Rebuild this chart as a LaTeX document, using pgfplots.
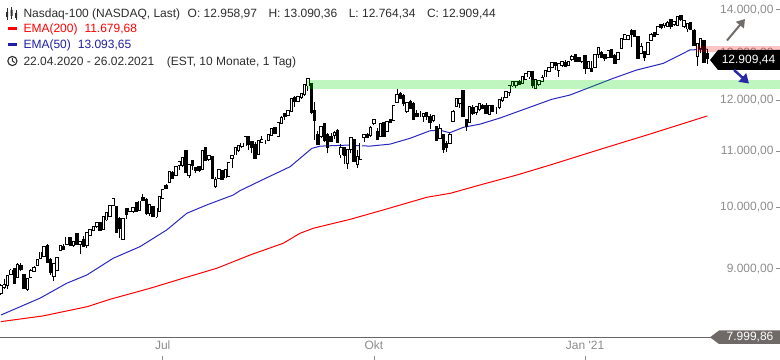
\documentclass[border=0pt]{standalone}
\usepackage{pgfplots}
\pgfplotsset{compat=1.18}
\usepackage{pgfplotstable}
\usepackage{fontspec}
\setmainfont{Liberation Sans}
\usetikzlibrary{arrows.meta}
\definecolor{txt}{RGB}{45,45,45}
\definecolor{ticklab}{RGB}{140,140,140}
\definecolor{emared}{RGB}{255,0,0}
\definecolor{emablue}{RGB}{40,40,190}
\definecolor{emabluetxt}{RGB}{30,30,165}
\definecolor{labgray}{RGB}{111,106,103}
\definecolor{arrgray}{RGB}{112,108,105}
\definecolor{arrblue}{RGB}{40,40,170}
\definecolor{bandgreen}{RGB}{0,220,0}

\pgfplotstableread{
x o h l c
0 8650 8760 8600 8720
1 8730 8850 8700 8740
2 8760 8890 8700 8880
3 8930 8990 8900 8960
4 8990 9010 8770 8790
5 8890 9080 8860 9050
6 9030 9080 8960 9000
7 8890 8910 8690 8720
8 8700 8840 8670 8830
9 8880 8990 8860 8950
10 8970 9040 8950 9000
11 9070 9140 9050 9120
12 9170 9250 9150 9240
13 9210 9340 9190 9330
14 9350 9380 9110 9120
15 9130 9170 8900 8960
16 8900 9070 8810 9060
17 8990 9160 8970 9150
18 9300 9360 9270 9340
19 9330 9390 9300 9320
20 9400 9490 9390 9480
21 9480 9500 9360 9380
22 9390 9420 9340 9410
23 9530 9540 9390 9400
24 9400 9420 9230 9410
25 9440 9510 9360 9370
26 9380 9570 9330 9560
27 9550 9620 9530 9600
28 9620 9660 9590 9650
29 9690 9730 9650 9720
30 9710 9740 9600 9620
31 9640 9830 9620 9810
32 9800 9890 9770 9880
33 9860 10020 9850 10010
34 10050 10160 10030 10120
35 9980 10000 9570 9590
36 9780 9830 9490 9660
37 9480 9800 9460 9780
38 9950 9990 9800 9900
39 9940 9990 9910 9960
40 9940 9980 9900 9970
41 10060 10090 9930 9950
42 9960 10090 9950 10080
43 10150 10220 10100 10130
44 10110 10150 9860 9910
45 9910 10030 9850 10020
46 9990 10000 9840 9850
47 9850 9970 9810 9960
48 9950 10170 9940 10160
49 10170 10300 10160 10280
50 10350 10400 10320 10340
51 10450 10610 10430 10600
52 10580 10640 10510 10520
53 10570 10710 10560 10700
54 10750 10820 10660 10780
55 10760 10870 10710 10860
56 10980 11030 10600 10620
57 10570 10740 10510 10730
58 10800 10830 10660 10760
59 10680 10700 10590 10660
60 10700 10730 10620 10660
61 10680 10990 10660 10980
62 11040 11050 10840 10850
63 10860 10920 10820 10900
64 10880 10910 10480 10520
65 10380 10520 10330 10460
66 10520 10650 10510 10640
67 10620 10640 10490 10500
68 10530 10660 10520 10640
69 10560 10780 10530 10760
70 10890 10910 10680 10900
71 10950 11080 10940 11050
72 11040 11090 10980 11080
73 11110 11150 11060 11130
74 11120 11270 11100 11250
75 11250 11270 11020 11140
76 11150 11170 10960 11090
77 11110 11170 10860 10880
78 10960 11190 10950 11170
79 11180 11280 11160 11190
80 11180 11220 11130 11180
81 11230 11310 11210 11300
82 11320 11420 11290 11410
83 11420 11460 11340 11360
84 11310 11560 11300 11530
85 11560 11680 11550 11620
86 11700 11720 11610 11690
87 11710 11780 11670 11770
88 11800 12010 11790 12000
89 12030 12080 11870 11990
90 12000 12060 11960 12050
91 12080 12140 12030 12110
92 12140 12300 12090 12290
93 12320 12440 12190 12420
94 12320 12330 11710 11770
95 11760 11960 11210 11620
96 11290 11380 11120 11140
97 11300 11490 11240 11440
98 11510 11550 11170 11220
99 11290 11340 10960 11090
100 11250 11350 11180 11210
101 11320 11390 11230 11330
102 11380 11420 11180 11190
103 10950 11140 10880 11050
104 11040 11050 10770 10940
105 10790 11010 10670 11000
106 11060 11250 10960 11240
107 11190 11200 10820 10830
108 10780 11020 10680 10880
109 10870 11150 10830 11130
110 11280 11310 11170 11300
111 11300 11340 11240 11290
112 11320 11490 11270 11420
113 11550 11620 11500 11580
114 11360 11450 11230 11240
115 11310 11510 11300 11500
116 11520 11560 11270 11300
117 11400 11550 11390 11540
118 11590 11610 11540 11570
119 11620 11870 11610 11860
120 11980 12230 11950 12090
121 12110 12170 12020 12060
122 12080 12130 11890 11950
123 11800 11960 11740 11920
124 11950 12010 11840 11850
125 11900 11960 11610 11640
126 11700 11800 11650 11690
127 11680 11770 11650 11680
128 11690 11740 11560 11710
129 11720 11730 11610 11700
130 11640 11720 11420 11580
131 11610 11690 11570 11660
132 11450 11490 11210 11220
133 11270 11520 11230 11400
134 11300 11310 10970 11050
135 11120 11200 10990 11100
136 11170 11340 11140 11300
137 11590 11800 11560 11740
138 11900 12020 11880 12000
139 11960 12020 11840 12000
140 12180 12210 11670 11700
141 11590 11600 11390 11500
142 11580 11850 11570 11840
143 11830 11900 11700 11750
144 11780 11850 11700 11840
145 11830 11900 11780 11900
146 11870 11930 11820 11860
147 11870 11940 11760 11760
148 11730 11880 11700 11860
149 11860 11880 11790 11800
150 11830 11870 11720 11830
151 11870 12020 11820 11990
152 12010 12060 11970 12040
153 12080 12170 12070 12150
154 12190 12270 12090 12270
155 12320 12400 12270 12360
156 12330 12390 12250 12370
157 12370 12430 12330 12360
158 12370 12460 12350 12460
159 12450 12550 12440 12530
160 12510 12590 12450 12570
161 12580 12610 12250 12320
162 12270 12420 12250 12400
163 12350 12390 12290 12380
164 12420 12530 12410 12440
165 12510 12600 12480 12590
166 12620 12680 12590 12660
167 12710 12770 12690 12760
168 12780 12800 12640 12760
169 12650 12760 12490 12740
170 12750 12820 12700 12800
171 12780 12850 12730 12740
172 12760 12810 12740 12800
173 12880 12960 12840 12900
174 12940 12960 12810 12850
175 12890 12900 12820 12850
176 12850 12900 12780 12890
177 12920 12930 12540 12690
178 12690 12830 12670 12800
179 12640 12820 12600 12620
180 12710 12960 12700 12940
181 13010 13110 12890 13110
182 12990 13050 12910 12940
183 12950 12990 12830 12920
184 12930 13060 12920 13030
185 13050 13090 12940 12940
186 12930 12980 12760 12800
187 12880 13000 12860 12990
188 13140 13320 13110 13300
189 13340 13410 13320 13400
190 13340 13390 13290 13370
191 13480 13560 13150 13440
192 13480 13500 13380 13400
193 13360 13360 12870 12910
194 13020 13220 12990 13120
195 13010 13060 12820 12930
196 13000 13230 12970 13210
197 13320 13460 13300 13400
198 13440 13460 13370 13410
199 13450 13580 13420 13580
200 13620 13640 13540 13610
201 13650 13680 13580 13660
202 13640 13730 13630 13680
203 13740 13760 13560 13640
204 13690 13710 13620 13700
205 13660 13810 13630 13810
206 13840 13880 13730 13790
207 13640 13730 13570 13720
208 13580 13660 13490 13650
209 13680 13710 13560 13570
210 13480 13540 13210 13210
211 12960 13230 12730 13200
212 13140 13310 13000 13300
213 13250 13300 12800 12830
214 12959 13090 12764 12909
}\ohlc

\begin{document}
\begin{tikzpicture}
\useasboundingbox (0,0) rectangle (780bp,360bp);
\begin{axis}[
  at={(0bp,22.3bp)}, anchor=south west,
  width=780bp, height=337.7bp, scale only axis,
  xmin=-0.303, xmax=236.06,
  ymode=log, ymin=8000, ymax=14240,
  axis x line*=bottom, axis y line*=right,
  x axis line style={draw=black!60, line width=1bp, -},
  y axis line style={draw=none},
  xtick={49,113,177}, xticklabels={Jul,Okt,Jan \textquotesingle21},
  xtick style={draw=none},
  xticklabel style={font=\fontsize{12bp}{14bp}\selectfont, text=ticklab},
  ytick={9000,10000,11000,12000,13000,14000},
  yticklabels={{9.000,00},{10.000,00},{11.000,00},{12.000,00},{13.000,00},{14.000,00}},
  yticklabel style={font=\fontsize{12bp}{14bp}\selectfont, text=ticklab, anchor=east, xshift=-3bp},
  ytick style={draw=ticklab, line width=0.8bp},
  tick align=inside, major tick length=4bp,
  minor tick num=0,
]
% EMA lines
\addplot[emared, line width=1bp] coordinates {
(0,8222) (12.7,8302) (26.1,8434) (33,8541) (45.2,8704) (55.2,8854) (65.4,9006)
(75.5,9213) (85.5,9398) (90.6,9560) (94.6,9642) (105.8,9791) (115.8,9948)
(129,10166) (136.1,10235) (146.2,10399) (156.3,10560) (166.4,10742)
(181.5,11032) (196.7,11326) (214,11680)};
\addplot[emablue, line width=1bp] coordinates {
(0,8316) (11.8,8557) (19.9,8778) (26,8903) (34,9161) (42.1,9344) (50.2,9614)
(56.3,9892) (62.3,10033) (70.4,10206) (72.4,10281) (79.5,10482) (87.6,10711)
(94.2,11052) (96.7,11094) (104.8,11113) (111.8,11094) (117.9,11132) (123.9,11242)
(130,11389) (133,11400) (136,11350) (140.1,11456) (145.2,11519) (151.2,11639)
(166.9,12017) (172.4,12105) (185.5,12455) (192.6,12633) (200.7,12778)
(208.8,13075) (212.8,13085) (214,13094)};
% wicks
\addplot[draw=none, mark=none, error bars/.cd, y dir=plus, y explicit, error mark=none,
  error bar style={draw=black, line width=1bp}]
  table[x=x, y=l, y error expr={\thisrow{h}-\thisrow{l}}] {\ohlc};
% bodies (outline / filled)
\addplot[draw=none, mark=none, error bars/.cd, y dir=plus, y explicit, error mark=none,
  error bar style={draw=black, line width=3.4bp, line cap=rect}]
  table[x=x, y expr={min(\thisrow{o},\thisrow{c})}, y error expr={abs(\thisrow{c}-\thisrow{o})}] {\ohlc};
% hollow interior of rising candles (falling ones are sent below the axis and clipped)
\addplot[draw=none, mark=none, error bars/.cd, y dir=plus, y explicit, error mark=none,
  error bar style={draw=white, line width=1.6bp, line cap=rect}]
  table[x=x, y expr={\thisrow{c}<\thisrow{o} ? 10 : \thisrow{o}},
        y error expr={\thisrow{c}<\thisrow{o} ? 0 : \thisrow{c}-\thisrow{o}}] {\ohlc};
% zones
\fill[bandgreen, opacity=0.25] (axis cs:92.6,12230) rectangle (axis cs:236.06,12425);
\fill[emared, opacity=0.23] (axis cs:210.6,13030) rectangle (axis cs:236.06,13160);
\end{axis}

% x tick marks at bottom
\foreach \xx in {162.7,374,585.1} \draw[ticklab, line width=0.8bp] (\xx bp,0) -- (\xx bp,4bp);

% price label
\fill[black] (710bp,300bp) -- (718bp,310bp) -- (780bp,310bp) -- (780bp,290bp) -- (718bp,290bp) -- cycle;
\node[text=white, font=\fontsize{12bp}{14bp}\selectfont, inner sep=0] at (748.5bp,300bp) {12.909,44};
% bottom label
\fill[labgray] (710bp,22.7bp) -- (719bp,29.5bp) -- (780bp,29.5bp) -- (780bp,16bp) -- (719bp,16bp) -- cycle;
\node[text=white, font=\fontsize{12bp}{14bp}\selectfont, inner sep=0] at (750bp,22.7bp) {7.999,86};
% arrows
\draw[arrgray, line width=2bp, -{Triangle[length=8bp,width=10bp]}] (727bp,319.5bp) -- (745bp,341bp);
\draw[arrblue, line width=2.5bp, -{Triangle[length=9bp,width=11bp]}] (734bp,290bp) -- (749bp,276.5bp);

% header
\begin{scope}[font=\fontsize{12bp}{14bp}\selectfont]
\draw[txt, line width=0.8bp] (7bp,340bp) -- (7bp,352bp) (11.5bp,341bp) -- (11.5bp,353bp) (16bp,340bp) -- (16bp,350bp);
\fill[txt] (6bp,343bp) rectangle (8bp,348bp) (10.5bp,344bp) rectangle (12.5bp,350bp) (15bp,342bp) rectangle (17bp,347bp);
\node[anchor=base west, inner sep=0, text=txt] at (23.3bp,342.7bp) {Nasdaq-100 (NASDAQ, Last)};
\node[anchor=base west, inner sep=0, text=txt] at (187.5bp,342.7bp)
 {O: 12.958,97\hspace{11.5bp}H: 13.090,36\hspace{11.5bp}L: 12.764,34\hspace{11.5bp}C: 12.909,44};
\fill[emared] (8.3bp,330.3bp) rectangle (16.7bp,332.8bp);
\node[anchor=base west, inner sep=0, text=emared] at (23.3bp,327.2bp) {EMA(200)\hspace{7bp}11.679,68};
\fill[emabluetxt] (8.3bp,314.3bp) rectangle (16.7bp,316.8bp);
\node[anchor=base west, inner sep=0, text=emabluetxt] at (23.3bp,311.2bp) {EMA(50)\hspace{7bp}13.093,65};
\draw[txt, line width=1.1bp] (12.4bp,299bp) circle (4.6bp);
\draw[txt, line width=1bp] (12.4bp,302bp) -- (12.4bp,299bp) -- (14.6bp,297.5bp);
\node[anchor=base west, inner sep=0, text=txt] at (23.3bp,294.7bp) {22.04.2020 - 26.02.2021\hspace{12.5bp}(EST, 10 Monate, 1 Tag)};
\end{scope}
\end{tikzpicture}
\end{document}
